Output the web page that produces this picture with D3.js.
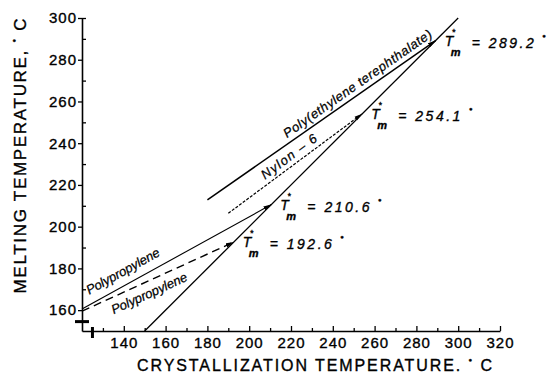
<!DOCTYPE html>
<html>
<head>
<meta charset="utf-8">
<script src="https://cdn.jsdelivr.net/npm/d3@7"></script>
<style>
  body { margin: 0; background: #fff; }
  svg { display: block; }
  text { font-family: "Liberation Sans", Arial, sans-serif; fill: #000; }
</style>
</head>
<body>
<div id="chart"></div>
<script>
// Crystallization temperature (x) vs melting temperature (y), deg C
const xTicks = [140, 160, 180, 200, 220, 240, 260, 280, 300, 320];
const xMinor = [130, 150, 170, 190, 210, 230, 250, 270, 290, 310];
const yTicks = [160, 180, 200, 220, 240, 260, 280, 300];
const yMinor = [170, 190, 210, 230, 250, 270, 290, 300];

// Tm = Tc line
const equalLine = [[150, 150], [300, 300]];
// polymer lines [Tc, Tm], extrapolated to Tm = Tc
const petLine = [[180, 212.8], [289.2, 289.2]];
const nylonLine = [[190, 206.4], [254.1, 254.1]];
const ppUpperLine = [[120, 160.5], [210.6, 210.6]];
const ppLowerLine = [[120, 159.5], [192.6, 192.6]];
const tmValues = ["289.2", "254.1", "210.6", "192.6"];

const width = 553, height = 375;

const svg = d3.select("#chart").append("svg")
  .attr("width", width)
  .attr("height", height);

const x = d3.scaleLinear().domain([120, 320]).range([82, 500]);
const y = d3.scaleLinear().domain([150, 300]).range([331, 18]);

// arrow head for the extrapolated ends
svg.append("defs").append("marker")
  .attr("id", "arrow")
  .attr("markerUnits", "userSpaceOnUse")
  .attr("markerWidth", 9).attr("markerHeight", 6)
  .attr("refX", 8).attr("refY", 3)
  .attr("orient", "auto")
  .append("path")
  .attr("d", "M0,0.8 L8,3 L0,5.2 Z")
  .attr("fill", "#000");

// axes
svg.append("g").attr("transform", `translate(0,${y(150)})`)
  .call(d3.axisBottom(x).tickValues(xTicks).tickSizeInner(-5).tickSizeOuter(0).tickPadding(6));
svg.append("g").attr("transform", `translate(0,${y(150)})`)
  .call(d3.axisBottom(x).tickValues(xMinor).tickSizeInner(-3).tickSizeOuter(0).tickFormat(""))
  .select(".domain").remove();

svg.append("g").attr("transform", `translate(${x(120)},0)`)
  .call(d3.axisLeft(y).tickValues(yTicks).tickSizeInner(4).tickSizeOuter(0).tickPadding(1));
svg.append("g").attr("transform", `translate(${x(120)},0)`)
  .call(d3.axisRight(y).tickValues(yMinor).tickSizeInner(4).tickSizeOuter(0).tickFormat(""))
  .select(".domain").remove();

svg.selectAll(".domain").attr("stroke", "#000").attr("stroke-width", 1.6);
svg.selectAll(".tick line").attr("stroke", "#000").attr("stroke-width", 1.3);
svg.selectAll(".tick text")
  .style("font-family", "'Liberation Sans', Arial, sans-serif")
  .style("font-size", "15px")
  .style("letter-spacing", "1px")
  .style("stroke", "#000").style("stroke-width", "0.35px")
  .attr("fill", "#000");

// axis break marks
svg.append("line")
  .attr("x1", x(120) - 7).attr("x2", x(120) + 7)
  .attr("y1", y(154.5)).attr("y2", y(154.5))
  .attr("stroke", "#000").attr("stroke-width", 3);
svg.append("line")
  .attr("x1", x(125)).attr("x2", x(125))
  .attr("y1", y(150) - 4).attr("y2", y(150) + 7)
  .attr("stroke", "#000").attr("stroke-width", 3);

// lines
const line = d3.line().x(d => x(d[0])).y(d => y(d[1]));

svg.append("path").datum(equalLine)
  .attr("d", line).attr("fill", "none")
  .attr("stroke", "#000").attr("stroke-width", 1.3);

svg.append("path").datum(petLine)
  .attr("d", line).attr("fill", "none")
  .attr("stroke", "#000").attr("stroke-width", 1.5)
  .attr("marker-end", "url(#arrow)");

svg.append("path").datum(nylonLine)
  .attr("d", line).attr("fill", "none")
  .attr("stroke", "#000").attr("stroke-width", 1.2)
  .attr("stroke-dasharray", "3,1.5")
  .attr("marker-end", "url(#arrow)");

svg.append("path").datum(ppUpperLine)
  .attr("d", line).attr("fill", "none")
  .attr("stroke", "#000").attr("stroke-width", 1.1)
  .attr("marker-end", "url(#arrow)");

svg.append("path").datum(ppLowerLine)
  .attr("d", line).attr("fill", "none")
  .attr("stroke", "#000").attr("stroke-width", 1.4)
  .attr("stroke-dasharray", "8,5")
  .attr("marker-end", "url(#arrow)");

// place a label along a line, starting at a given Tc
function along(seg, tc) {
  const [[x0, y0], [x1, y1]] = seg;
  const tm = y0 + (y1 - y0) * (tc - x0) / (x1 - x0);
  const ang = Math.atan2(y(y1) - y(y0), x(x1) - x(x0)) * 180 / Math.PI;
  return `translate(${x(tc)},${y(tm)}) rotate(${ang})`;
}

function lineLabel(seg, tc, off, txt, len) {
  svg.append("text")
    .attr("transform", along(seg, tc))
    .attr("y", off)
    .attr("textLength", len)
    .attr("lengthAdjust", "spacing")
    .style("font-size", "13px")
    .style("font-style", "italic")
    .style("stroke", "#000").style("stroke-width", "0.25px")
    .text(txt);
}

lineLabel(petLine, 219.5, -5, "Poly(ethylene terephthalate)", 178);
lineLabel(nylonLine, 209, -5, "Nylon \u2013 6", 66);
lineLabel(ppUpperLine, 125.5, -9, "Polypropylene", 82);
lineLabel(ppLowerLine, 132, 16, "Polypropylene", 82);

// Tm* labels at the intersections
tmValues.forEach(v => {
  const X = x(+v) + 9, Y = y(+v) + 5;
  const t = svg.append("text")
    .style("font-style", "italic")
    .style("font-size", "14px")
    .style("stroke", "#000").style("stroke-width", "0.35px");
  t.append("tspan").attr("x", X).attr("y", Y).text("T");
  t.append("tspan").attr("x", X + 7).attr("y", Y - 11).style("font-size", "9px").text("*");
  t.append("tspan").attr("x", X + 6).attr("y", Y + 10)
    .style("font-size", "11px").style("font-weight", "bold").text("m");
  t.append("tspan").attr("x", X + 27).attr("y", Y + 2)
    .style("letter-spacing", "2.5px").text("= " + v);
  t.append("tspan").attr("dx", 6).attr("dy", -10)
    .style("font-size", "6px").style("font-style", "normal").text("\u25CF");
});

// axis titles
const xt = svg.append("text")
  .attr("x", 137).attr("y", 371)
  .attr("textLength", 355).attr("lengthAdjust", "spacing")
  .style("font-size", "16px")
  .style("stroke", "#000").style("stroke-width", "0.35px");
xt.append("tspan").text("CRYSTALLIZATION TEMPERATURE. ");
xt.append("tspan").attr("dy", -9).style("font-size", "6px").text("\u25CF");
xt.append("tspan").attr("dy", 9).text(" C");

const yt = svg.append("text")
  .attr("transform", `translate(26,156) rotate(-90)`)
  .attr("text-anchor", "middle")
  .attr("textLength", 275).attr("lengthAdjust", "spacing")
  .style("font-size", "17px")
  .style("stroke", "#000").style("stroke-width", "0.35px");
yt.append("tspan").text("MELTING TEMPERATURE, ");
yt.append("tspan").attr("dy", -10).style("font-size", "6px").text("\u25CF");
yt.append("tspan").attr("dy", 10).text(" C");
</script>
</body>
</html>
